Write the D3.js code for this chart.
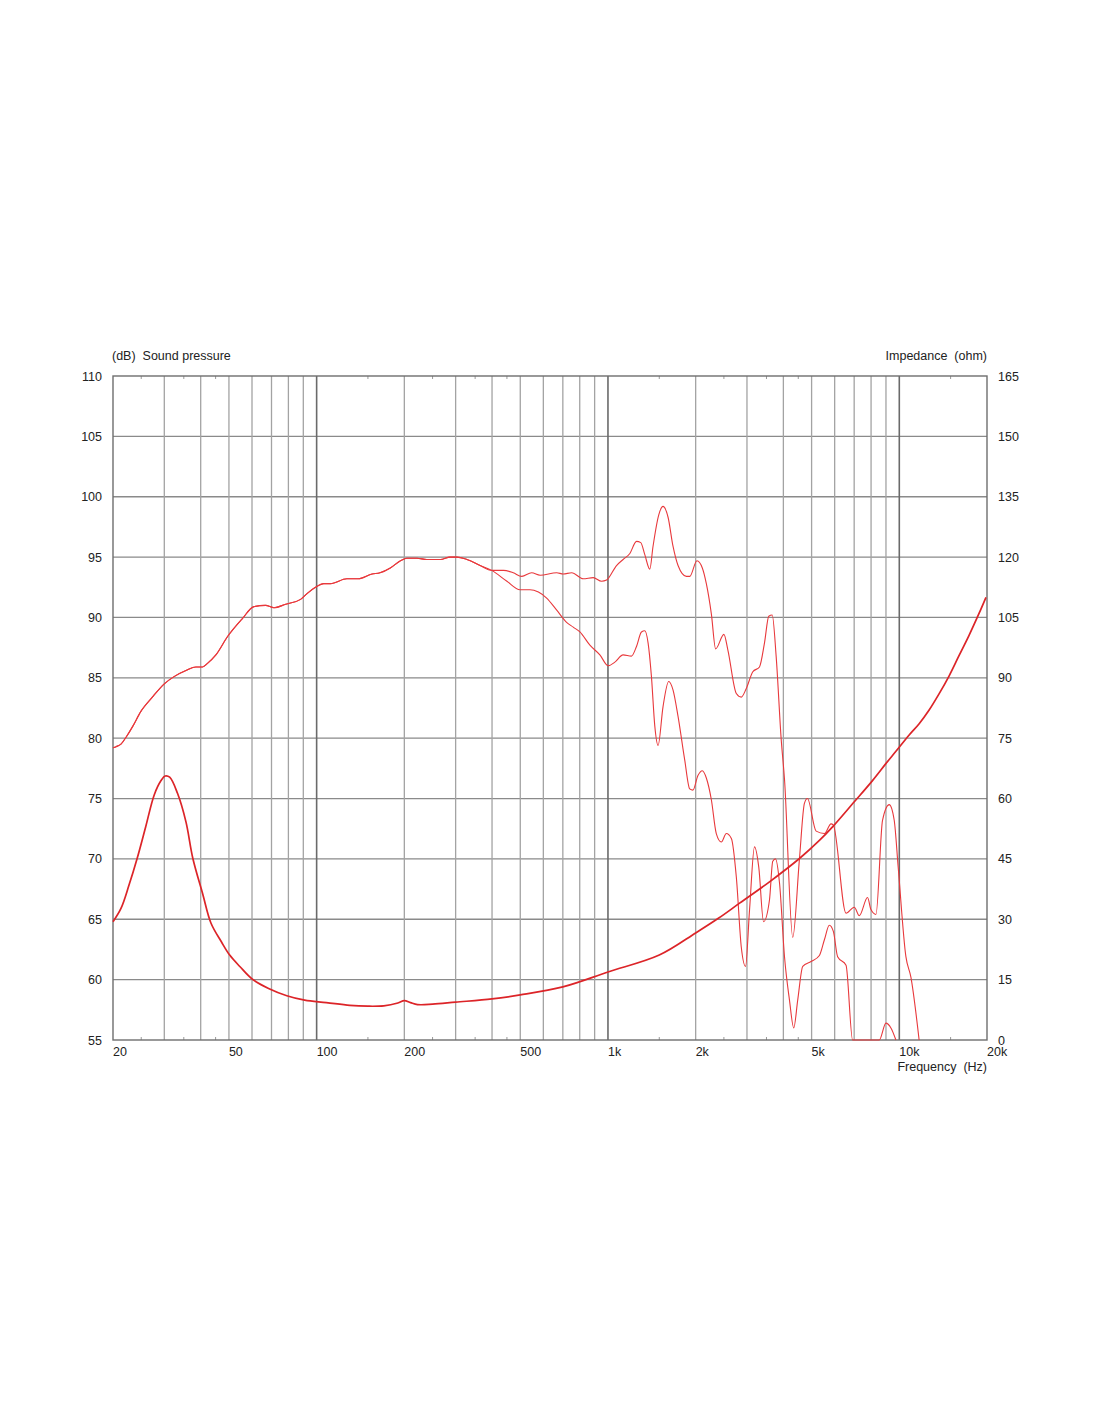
<!DOCTYPE html>
<html>
<head>
<meta charset="utf-8">
<script src="https://cdn.jsdelivr.net/npm/d3@7"></script>
<style>
  html, body { margin: 0; padding: 0; background: #ffffff; }
  svg { display: block; }
  text { font-family: "Liberation Sans", Arial, sans-serif; fill: #222; }
</style>
</head>
<body>
<svg id="chart" width="1100" height="1422"></svg>
<script>
// ---------- data ----------
const xTickLabels = [[20,"20"],[50,"50"],[100,"100"],[200,"200"],[500,"500"],[1000,"1k"],[2000,"2k"],[5000,"5k"],[10000,"10k"],[20000,"20k"]];
const leftTicks = [55,60,65,70,75,80,85,90,95,100,105,110];
const rightTicks = [0,15,30,45,60,75,90,105,120,135,150,165];
const gridFreqs = [30,40,50,60,70,80,90,100,200,300,400,500,600,700,800,900,1000,2000,3000,4000,5000,6000,7000,8000,9000,10000];
const decadeFreqs = [100,1000,10000];
const minorTickFreqs = [25,35,45,150,250,350,450,1500,2500,3500,4500,15000];

// on-axis sound pressure (dB) [Hz, dB]
const onAxisSPL = [
 [20,79.2],[20.5,79.3],[21.3,79.5],[22.2,80.1],[23.4,81.0],[24.9,82.2],[27.3,83.4],[30,84.5],
 [32.4,85.1],[35.6,85.6],[38.5,85.9],[40.6,85.9],[42.2,86.2],[45.1,86.9],[49.4,88.4],[55.6,89.9],
 [60.9,90.9],[66.8,91.0],[71.4,90.8],[78.3,91.1],[88.1,91.5],[92.9,92.0],[99.1,92.5],[105.8,92.8],
 [111.6,92.8],[127,93.2],[139,93.2],[155,93.6],[165,93.7],[179,94.1],[194,94.7],[204,94.9],
 [221,94.9],[239,94.8],[266,94.8],[287,95.0],[303,95.0],[328,94.8],[364,94.3],[399,93.9],
 [438,93.9],[473,93.7],[506,93.4],[547,93.7],[585,93.5],[667,93.7],[702,93.6],[751,93.7],
 [822,93.2],[890,93.3],[951,93.0],[989,93.1],[1070,94.3],[1127,94.8],[1189,95.3],[1253,96.3],
 [1296,96.2],[1338,95.2],[1392,94.0],[1428,95.9],[1494,98.5],[1545,99.2],[1608,98.3],[1672,95.9],
 [1740,94.3],[1858,93.4],[1908,93.4],[2021,94.7],[2108,94.1],[2176,92.8],[2264,90.3],[2342,87.4],
 [2500,88.6],[2580,87.3],[2758,83.7],[2868,83.4],[2982,84.1],[3142,85.5],[3312,85.9],[3446,87.9],
 [3564,90.1],[3662,90.2],[3778,86.8],[3932,79.9],[4036,76.6],[4308,63.5],[4542,70.0],[4724,74.6],
 [4838,75.0],[5182,72.3],[5532,72.1],[5830,72.9],[5938,72.8],[6564,65.5],[7008,66.0],[7290,65.3],
 [7780,66.8],[7994,65.8],[8316,65.4],[8758,73.2],[9234,74.5],[9606,73.2],[9914,69.3],[10536,61.9],
 [10960,60.2],[11696,55.0]
];

// off-axis sound pressure (dB), diverging from on-axis at ~400 Hz [Hz, dB]
const offAxisSPL = [
 [399,93.9],[450,93.0],[499,92.3],[540,92.3],[577,92.1],[616,91.6],[667,90.6],[721,89.6],
 [760,89.2],[801,88.8],[867,87.7],[938,86.9],[1002,86.0],[1056,86.3],[1127,86.9],[1204,86.8],
 [1253,87.6],[1303,88.8],[1338,88.9],[1373,87.9],[1410,85.1],[1448,81.0],[1486,79.4],[1545,82.6],
 [1616,84.7],[1672,84.0],[1740,81.8],[1834,78.2],[1908,75.8],[1958,75.7],[2036,76.9],[2108,77.3],
 [2176,76.7],[2264,74.9],[2354,72.1],[2450,71.4],[2548,72.1],[2652,71.7],[2758,68.5],[2868,62.7],
 [2966,61.1],[3062,65.8],[3184,71.0],[3294,69.3],[3420,64.8],[3584,66.6],[3678,69.8],[3758,70.0],
 [3880,68.0],[4036,61.9],[4198,58.3],[4342,56.0],[4480,58.3],[4662,61.1],[4978,61.5],[5318,62.0],
 [5532,63.3],[5752,64.5],[5938,64.0],[6142,61.9],[6564,61.2],[6914,55.0],[7600,55.0],[8534,55.0],
 [8998,56.4],[9360,56.0],[9736,55.0]
];

// impedance (ohm) [Hz, ohm]
const impedance = [
 [20,29.4],[21.3,32.7],[22.7,38.5],[24.2,45.1],[25.9,53.0],[27.7,60.9],[29.2,64.4],[30.2,65.6],
 [31.3,65.3],[33.3,61.3],[35.6,54.2],[37.6,45.1],[40.6,36.4],[43.4,29.0],[47.1,24.4],[50.3,21.1],
 [54.6,18.2],[60.2,15.1],[68.4,12.8],[79,11.0],[91,9.9],[108,9.3],[130,8.6],[150,8.4],[170,8.5],
 [190,9.2],[200,9.8],[210,9.3],[222,8.8],[250,8.9],[300,9.4],[400,10.2],[500,11.2],[700,13.2],
 [1000,16.9],[1500,21.1],[2000,26.6],[2400,30.3],[2830,34.0],[3585,39.3],[4542,45.1],[5318,49.6],
 [5890,52.9],[7008,59.2],[8078,64.4],[9020,68.8],[9753,71.8],[10812,75.8],[11700,78.6],[12660,82.0],
 [13690,86.0],[14830,90.5],[16030,95.5],[17340,100.5],[18780,106.0],[19840,110.0]
];

// ---------- layout ----------
const svg = d3.select("#chart");
const L = 113, R = 987, T = 376, B = 1040;

const x = d3.scaleLog().domain([20, 20000]).range([L, R]);
const yL = d3.scaleLinear().domain([55, 110]).range([B, T]);
const yR = d3.scaleLinear().domain([0, 165]).range([B, T]);

// horizontal grid
svg.append("g").selectAll("line").data(leftTicks.filter(v => v > 55 && v < 110)).join("line")
  .attr("x1", L).attr("x2", R).attr("y1", d => yL(d)).attr("y2", d => yL(d))
  .attr("stroke", "#8a8a8a").attr("stroke-width", 1.3);

// vertical grid
svg.append("g").selectAll("line").data(gridFreqs).join("line")
  .attr("x1", d => x(d)).attr("x2", d => x(d)).attr("y1", T).attr("y2", B)
  .attr("stroke", d => decadeFreqs.includes(d) ? "#6a6a6a" : "#a3a3a3")
  .attr("stroke-width", d => decadeFreqs.includes(d) ? 1.6 : 1.3);

// minor ticks top and bottom
const mt = svg.append("g");
mt.selectAll("line.b").data(minorTickFreqs).join("line").attr("class","b")
  .attr("x1", d => x(d)).attr("x2", d => x(d)).attr("y1", B).attr("y2", B - 3)
  .attr("stroke", "#999").attr("stroke-width", 1);
mt.selectAll("line.t").data(minorTickFreqs).join("line").attr("class","t")
  .attr("x1", d => x(d)).attr("x2", d => x(d)).attr("y1", T).attr("y2", T + 3)
  .attr("stroke", "#999").attr("stroke-width", 1);

// border
svg.append("rect").attr("x", L).attr("y", T).attr("width", R - L).attr("height", B - T)
  .attr("fill", "none").attr("stroke", "#6e6e6e").attr("stroke-width", 1.4);

// axes labels
const fs = "12.5px";
svg.append("g").selectAll("text").data(leftTicks).join("text")
  .attr("x", 102).attr("y", d => yL(d)).attr("dy", "0.36em")
  .attr("text-anchor", "end").style("font-size", fs).text(d => d);

svg.append("g").selectAll("text").data(rightTicks).join("text")
  .attr("x", 998).attr("y", d => yR(d)).attr("dy", "0.36em")
  .attr("text-anchor", "start").style("font-size", fs).text(d => d);

svg.append("g").selectAll("text").data(xTickLabels).join("text")
  .attr("x", d => x(d[0])).attr("y", 1056)
  .attr("text-anchor", "start").style("font-size", fs).text(d => d[1]);

svg.append("text").attr("x", 112).attr("y", 360).style("font-size", fs)
  .attr("xml:space", "preserve").text("(dB)  Sound pressure");
svg.append("text").attr("x", 987).attr("y", 360).attr("text-anchor", "end").style("font-size", fs)
  .attr("xml:space", "preserve").text("Impedance  (ohm)");
svg.append("text").attr("x", 987).attr("y", 1071).attr("text-anchor", "end").style("font-size", fs)
  .attr("xml:space", "preserve").text("Frequency  (Hz)");

// curves
const lineL = d3.line().x(d => x(d[0])).y(d => yL(Math.max(55, d[1]))).curve(d3.curveMonotoneX);
const lineR = d3.line().x(d => x(d[0])).y(d => yR(d[1])).curve(d3.curveCatmullRom.alpha(0.5));

const offFull = onAxisSPL.filter(d => d[0] < offAxisSPL[0][0]).concat(offAxisSPL);

svg.append("path").datum(offFull).attr("d", lineL)
  .attr("fill", "none").attr("stroke", "#e8393c").attr("stroke-width", 1.1);
svg.append("path").datum(onAxisSPL).attr("d", lineL)
  .attr("fill", "none").attr("stroke", "#e8393c").attr("stroke-width", 1.1);
svg.append("path").datum(impedance).attr("d", lineR)
  .attr("fill", "none").attr("stroke", "#dc2428").attr("stroke-width", 1.7);
</script>
</body>
</html>
